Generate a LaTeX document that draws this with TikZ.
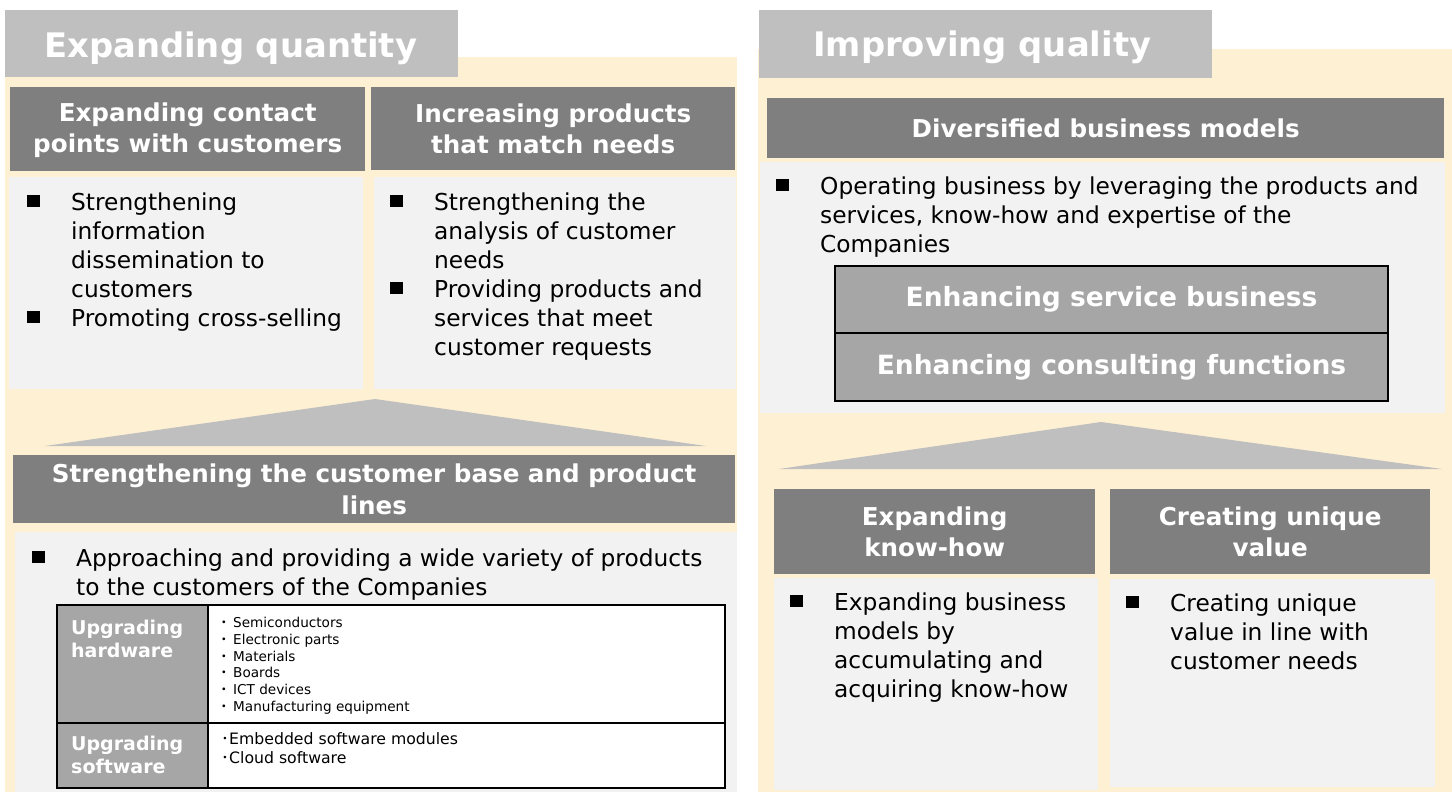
\documentclass[tikz,border=0pt]{standalone}
\usepackage{fontspec}
\setmainfont{DejaVu Sans}
\newfontfamily\jpfont{Noto Sans CJK JP}
\definecolor{beige}{HTML}{FDF0D3}
\definecolor{dgray}{HTML}{7F7F7F}
\definecolor{lgray}{HTML}{BFBFBF}
\definecolor{mgray}{HTML}{A6A6A6}
\definecolor{pgray}{HTML}{F2F2F2}
\newcommand{\bitems}[2]{\parbox[t]{#1pt}{\fontsize{23.3}{29}\selectfont\raggedright\leftskip=44pt\relax #2}}
\newcommand{\bul}[1]{\par\noindent\hspace*{-44pt}\makebox[44pt][l]{\rule[3pt]{12.5pt}{12.5pt}}#1\par}
\newcommand{\hwdot}{\makebox[16pt][l]{\jpfont ・}}
\newcommand{\swdot}{\makebox[8pt][l]{\jpfont ･}}
\tikzset{
  box/.style={anchor=north west, inner sep=0, draw=none},
  panel/.style={box, fill=beige},
  ttlbox/.style={box, fill=lgray},
  ttltxt/.style={anchor=base west, inner sep=0, text=white, font=\bfseries\fontsize{33.8}{40}\selectfont},
  hdr/.style={box, fill=dgray, text=white, align=center, font=\bfseries\fontsize{24.6}{31.5}\selectfont},
  lbox/.style={box, fill=pgray},
  btxt/.style={anchor=base west, inner sep=0},
  enh/.style={box, fill=mgray, draw=black, line width=2pt, text=white, font=\bfseries\fontsize{26.5}{32}\selectfont},
  cell/.style={box, draw=black, line width=2pt},
  celllab/.style={anchor=north west, inner sep=0, align=left, text=white, font=\bfseries\fontsize{19}{23.5}\selectfont},
  tri/.style={fill=lgray}
}
\begin{document}
\begin{tikzpicture}[x=1pt,y=-1pt]
\useasboundingbox (0,0) rectangle (1452,792);
% ---------- left panel ----------
\node[panel, minimum width=732, minimum height=735] (pl) at (5,57) {};
\node[ttlbox, minimum width=453, minimum height=67] (tl) at (5,10) {};
\node[ttltxt] (ttl) at (44,58) {Expanding quantity};
\node[hdr, minimum width=355, minimum height=82] (h1) at (10,89) {Expanding contact\\points with customers};
\fill[dgray] (10,87) rectangle (365,89);
\node[hdr, minimum width=364, minimum height=83] (h2) at (371,87) {Increasing products\\that match needs};
\node[lbox, minimum width=354, minimum height=212] (l1) at (9,177) {};
\node[lbox, minimum width=362, minimum height=212] (l2) at (374,177) {};
\node[btxt] (t1) at (27,210) {\bitems{330}{\bul{Strengthening\\information\\dissemination to\\customers}\bul{Promoting cross-selling}}};
\node[btxt] (t2) at (390,210) {\bitems{340}{\bul{Strengthening the\\analysis of customer\\needs}\bul{Providing products and\\services that meet\\customer requests}}};
\fill[tri] (45,446) -- (375,399) -- (706,446) -- cycle;
\node[hdr, minimum width=722, minimum height=68] (h3) at (13,455) {Strengthening the customer base and product\\lines};
\node[lbox, minimum width=722, minimum height=260] (l3) at (15,532) {};
\node[btxt] (t3) at (32,566) {\bitems{690}{\bul{Approaching and providing a wide variety of products\\to the customers of the Companies}}};
% table
\node[cell, fill=mgray, minimum width=151, minimum height=118] (c11) at (56,604) {};
\node[cell, fill=white, minimum width=517, minimum height=118] (c12) at (207,604) {};
\node[cell, fill=mgray, minimum width=151, minimum height=65] (c21) at (56,722) {};
\node[cell, fill=white, minimum width=517, minimum height=65] (c22) at (207,722) {};
\node[celllab] (u1) at (71,619) {\rule{0pt}{15pt}Upgrading\\hardware};
\node[celllab] (u2) at (71,735) {\rule{0pt}{15pt}Upgrading\\software};
\node[anchor=north west, inner sep=0, align=left, font=\fontsize{13.6}{16.9}\selectfont] (hw) at (217,616)
  {\rule{0pt}{11pt}\hwdot Semiconductors\\\hwdot Electronic parts\\\hwdot Materials\\\hwdot Boards\\\hwdot ICT devices\\\hwdot Manufacturing equipment};
\node[anchor=north west, inner sep=0, align=left, font=\fontsize{15.7}{19.5}\selectfont] (sw) at (221,732)
  {\rule{0pt}{12pt}\swdot Embedded software modules\\\swdot Cloud software};
% ---------- right panel ----------
\node[panel, minimum width=694, minimum height=743] (pr) at (758,49) {};
\node[ttlbox, minimum width=453, minimum height=68] (tr) at (759,10) {};
\node[ttltxt] (ttr) at (813,57) {Improving quality};
\node[hdr, minimum width=677, minimum height=60] (h4) at (767,98) {Diversified business models};
\node[lbox, minimum width=685, minimum height=251] (l4) at (760,162) {};
\node[btxt] (t4) at (776,194) {\bitems{660}{\bul{Operating business by leveraging the products and\\services, know-how and expertise of the\\Companies}}};
\node[enh, minimum width=553, minimum height=67] (e1) at (834,265) {Enhancing service business};
\node[enh, minimum width=553, minimum height=68] (e2) at (834,332) {Enhancing consulting functions};
\fill[tri] (779,469) -- (1101,422) -- (1442,469) -- cycle;
\node[hdr, minimum width=321, minimum height=85] (h5) at (774,489) {Expanding\\know-how};
\node[hdr, minimum width=320, minimum height=85] (h6) at (1110,489) {Creating unique\\value};
\node[lbox, minimum width=324, minimum height=212] (l5) at (774,578) {};
\node[lbox, minimum width=325, minimum height=208] (l6) at (1110,579) {};
\node[btxt] (t5) at (790,610) {\bitems{310}{\bul{Expanding business\\models by\\accumulating and\\acquiring know-how}}};
\node[btxt] (t6) at (1126,611) {\bitems{310}{\bul{Creating unique\\value in line with\\customer needs}}};
\end{tikzpicture}
\end{document}
